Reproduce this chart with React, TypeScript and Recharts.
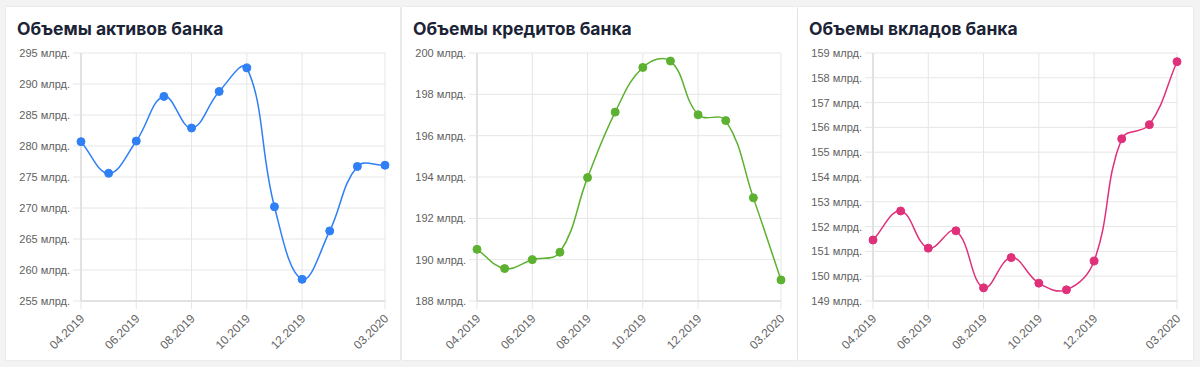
import React from 'react';
import { LineChart, Line, XAxis, YAxis, CartesianGrid } from 'recharts';

// months on the x axis
const months = [
  '04.2019', '05.2019', '06.2019', '07.2019', '08.2019', '09.2019',
  '10.2019', '11.2019', '12.2019', '01.2020', '02.2020', '03.2020',
];
const monthTicks = ['04.2019', '06.2019', '08.2019', '10.2019', '12.2019', '03.2020'];

// values, billions
const assets = [280.7, 275.6, 280.8, 288.0, 282.9, 288.8, 292.6, 270.2, 258.5, 266.3, 276.7, 276.9];
const credits = [190.5, 189.57, 190.0, 190.36, 193.97, 197.14, 199.3, 199.61, 197.01, 196.73, 192.99, 189.02];
const deposits = [151.46, 152.63, 151.13, 151.83, 149.53, 150.75, 149.72, 149.45, 150.61, 155.54, 156.11, 158.65];

const assetTicks = [255, 260, 265, 270, 275, 280, 285, 290, 295];
const creditTicks = [188, 190, 192, 194, 196, 198, 200];
const depositTicks = [149, 150, 151, 152, 153, 154, 155, 156, 157, 158, 159];

const CARD_H = 353;
const PLOT_LEFT = 75;
const PLOT_RIGHT = 379;
const PLOT_TOP = 46;
const PLOT_BOTTOM = 294;
const GRID = '#e6e6e6';
const TICK_FONT = '"Liberation Sans", Arial, sans-serif';

// chart.js style cubic spline (tension 0.4), control points kept inside the plot area
const splineCurve = (context: any) => {
  let pts: [number, number][] = [];
  const clampY = (v: number) => Math.max(PLOT_TOP, Math.min(PLOT_BOTTOM, v));
  return {
    areaStart() {},
    areaEnd() {},
    lineStart() { pts = []; },
    point(x: number, y: number) { pts.push([+x, +y]); },
    lineEnd() {
      if (!pts.length) return;
      const t = 0.4;
      const cps = pts.map((cur, i) => {
        const prev = pts[i - 1] || cur;
        const next = pts[i + 1] || cur;
        const d01 = Math.hypot(cur[0] - prev[0], cur[1] - prev[1]);
        const d12 = Math.hypot(next[0] - cur[0], next[1] - cur[1]);
        const s01 = d01 + d12 ? d01 / (d01 + d12) : 0;
        const s12 = d01 + d12 ? d12 / (d01 + d12) : 0;
        const fa = t * s01;
        const fb = t * s12;
        return {
          prev: [cur[0] - fa * (next[0] - prev[0]), clampY(cur[1] - fa * (next[1] - prev[1]))],
          next: [cur[0] + fb * (next[0] - prev[0]), clampY(cur[1] + fb * (next[1] - prev[1]))],
        };
      });
      context.moveTo(pts[0][0], pts[0][1]);
      for (let i = 1; i < pts.length; i++) {
        const a = cps[i - 1].next;
        const b = cps[i].prev;
        context.bezierCurveTo(a[0], a[1], b[0], b[1], pts[i][0], pts[i][1]);
      }
    },
  };
};

const MonthTick = (props: any) => {
  const { x, y, payload } = props;
  const tx = x + 2;
  const ty = y + 5;
  return (
    <text
      x={tx}
      y={ty}
      transform={`rotate(-45, ${tx}, ${ty})`}
      textAnchor="end"
      dominantBaseline="middle"
      fill="#666"
      fontSize={12}
      fontFamily={TICK_FONT}
    >
      {payload.value}
    </text>
  );
};

interface PanelProps {
  left: number;
  width: number;
  title: string;
  values: number[];
  ticks: number[];
  color: string;
}

const Panel: React.FC<PanelProps> = ({ left, width, title, values, ticks, color }) => {
  const data = months.map((m, i) => ({ month: m, value: values[i] }));
  return (
    <div
      style={{
        position: 'absolute',
        left,
        top: 7,
        width,
        height: CARD_H,
        background: '#fff',
        boxShadow: '0 0 2px rgba(0,0,0,0.10)',
      }}
    >
      <div
        style={{
          position: 'absolute',
          left: 11,
          top: 11,
          fontFamily: 'Inter, "Noto Sans", sans-serif',
          fontWeight: 700,
          fontSize: 17.5,
          color: '#1b2436',
          whiteSpace: 'nowrap',
        }}
      >
        {title}
      </div>
      <LineChart
        width={width}
        height={CARD_H}
        data={data}
        margin={{ top: PLOT_TOP, right: width - PLOT_RIGHT, bottom: 0, left: 0 }}
      >
        <CartesianGrid stroke={GRID} strokeWidth={1} />
        <XAxis
          dataKey="month"
          ticks={monthTicks}
          interval={0}
          height={CARD_H - PLOT_BOTTOM}
          tickSize={8}
          tickMargin={3}
          axisLine={{ stroke: '#d0d0d0' }}
          tickLine={{ stroke: GRID }}
          tick={<MonthTick />}
        />
        <YAxis
          width={PLOT_LEFT}
          domain={[ticks[0], ticks[ticks.length - 1]]}
          ticks={ticks}
          interval={0}
          tickSize={8}
          tickMargin={3}
          axisLine={{ stroke: '#d0d0d0' }}
          tickLine={{ stroke: GRID }}
          tick={{ fill: '#5f5f5f', fontSize: 11, fontFamily: TICK_FONT }}
          tickFormatter={(v: number) => `${v} млрд.`}
        />
        <Line
          dataKey="value"
          type={splineCurve as any}
          stroke={color}
          strokeWidth={1.5}
          dot={{ r: 4, fill: color, stroke: color, strokeWidth: 1 }}
          activeDot={false}
          isAnimationActive={false}
        />
      </LineChart>
    </div>
  );
}

export default function App() {
  return (
    <div
      style={{
        position: 'absolute',
        left: 0,
        top: 0,
        width: 1200,
        height: 367,
        background: '#f3f3f3',
        overflow: 'hidden',
      }}
    >
      <Panel left={6} width={394} title="Объемы активов банка" values={assets} ticks={assetTicks} color="#2f7ff5" />
      <Panel left={402} width={395} title="Объемы кредитов банка" values={credits} ticks={creditTicks} color="#5cb130" />
      <Panel left={798} width={395} title="Объемы вкладов банка" values={deposits} ticks={depositTicks} color="#e0307a" />
    </div>
  );
}
